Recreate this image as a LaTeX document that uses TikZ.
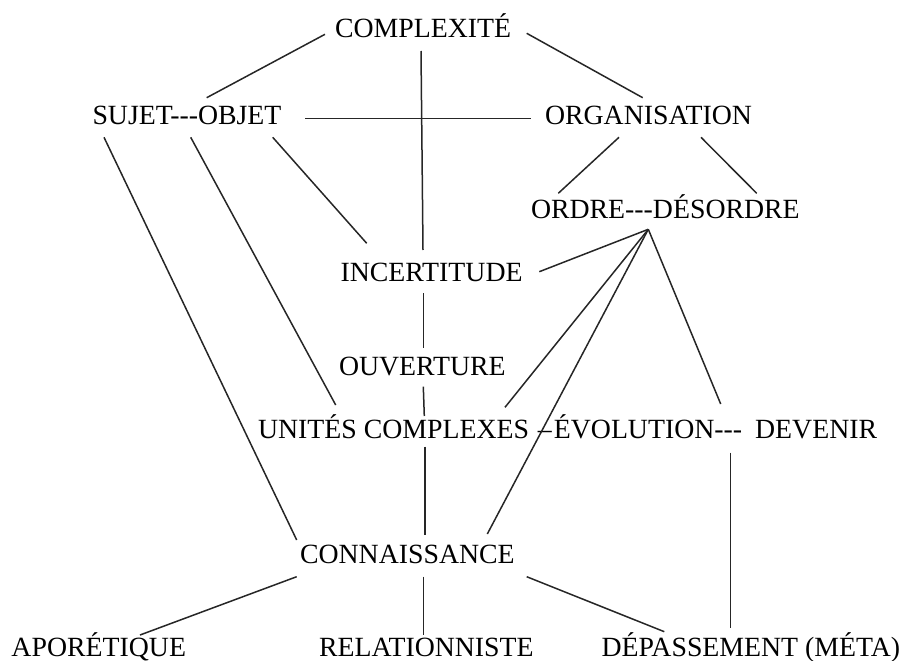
\documentclass[tikz,border=0pt]{standalone}
\usepackage{fontspec}
\setmainfont{Liberation Serif}
\begin{document}
\begin{tikzpicture}[x=1pt,y=-1pt,
  lbl/.style={anchor=base west,inner sep=0pt,outer sep=0pt,font=\fontsize{27.8}{30}\selectfont,text=black},
  link/.style={line width=1.5pt,draw=black!85}]
\useasboundingbox (0,0) rectangle (910,661);
% labels
\node[lbl] (cx)  at (335,38)  {COMPLEXITÉ};
\node[lbl] (so)  at (92.5,124) {SUJET-{}-{}-OBJET};
\node[lbl] (org) at (545,124) {ORGANISATION};
\node[lbl] (od)  at (531,218) {ORDRE-{}-{}-DÉSORDRE};
\node[lbl] (inc) at (340.5,281) {INCERTITUDE};
\node[lbl] (ouv) at (339,375) {OUVERTURE};
\node[lbl] (uni) at (258,438) {UNITÉS COMPLEXES\hspace{2pt} –\hspace{2pt}ÉVOLUTION-{}-{}-\hspace{6pt} DEVENIR};
\node[lbl] (con) at (300,563) {CONNAISSANCE};
\node[lbl] (apo) at (11.5,656) {APORÉTIQUE};
\node[lbl] (rel) at (319,656) {RELATIONNISTE};
\node[lbl] (dep) at (601.5,656) {DÉPASSEMENT (MÉTA)};
% connector end points
\coordinate (cxL) at (325,34.3);
\coordinate (cxR) at (526.7,33.3);
\coordinate (cxB) at (421,51);
\coordinate (soT) at (206.7,97.7);
\coordinate (soR) at (305,118.3);
\coordinate (soA) at (104,137.3);
\coordinate (soB) at (190.7,137.3);
\coordinate (soC) at (272.7,137.3);
\coordinate (orgT) at (642.7,97.7);
\coordinate (orgL) at (531,118.3);
\coordinate (orgA) at (619,137.3);
\coordinate (orgB) at (701,137.3);
\coordinate (odA) at (558.3,193.3);
\coordinate (odB) at (756.7,193.3);
\coordinate (odX) at (648.3,229.3);
\coordinate (incT) at (423,250);
\coordinate (incL) at (366.7,243.3);
\coordinate (incR) at (539.3,271.7);
\coordinate (incB) at (423.3,293.3);
\coordinate (ouvT) at (423.3,348);
\coordinate (ouvB) at (423.3,386.7);
\coordinate (uniT) at (424.3,416);
\coordinate (uniL) at (335.7,405);
\coordinate (uniR) at (505,407.3);
\coordinate (uniE) at (720.7,404);
\coordinate (uniB) at (425,446.7);
\coordinate (uniD) at (730.3,452.7);
\coordinate (conT) at (425,535);
\coordinate (conL) at (296.7,540);
\coordinate (conR) at (487.3,534);
\coordinate (conA) at (296.7,576.7);
\coordinate (conB) at (423.3,576.7);
\coordinate (conC) at (526.7,576.7);
\coordinate (apoT) at (140,635);
\coordinate (relT) at (423.3,635);
\coordinate (depT) at (664.3,631.7);
\coordinate (depV) at (730.3,628.3);
% connectors
\draw[link] (cxL) -- (soT);
\draw[link] (cxR) -- (orgT);
\draw[link] (cxB) -- (incT);
\draw[link] (soR) -- (orgL);
\draw[link] (soA) -- (conL);
\draw[link] (soB) -- (uniL);
\draw[link] (soC) -- (incL);
\draw[link] (orgA) -- (odA);
\draw[link] (orgB) -- (odB);
\draw[link] (odX) -- (incR);
\draw[link] (odX) -- (uniR);
\draw[link] (odX) -- (conR);
\draw[link] (odX) -- (uniE);
\draw[link] (incB) -- (ouvT);
\draw[link] (ouvB) -- (uniT);
\draw[link] (uniB) -- (conT);
\draw[link] (uniD) -- (depV);
\draw[link] (conA) -- (apoT);
\draw[link] (conB) -- (relT);
\draw[link] (conC) -- (depT);
\end{tikzpicture}
\end{document}
